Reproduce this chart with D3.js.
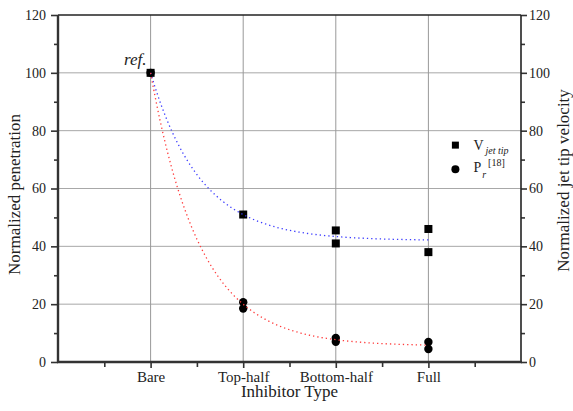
<!DOCTYPE html>
<html>
<head>
<meta charset="utf-8">
<script src="https://cdn.jsdelivr.net/npm/d3@7"></script>
<style>
  body { margin: 0; background: #fff; }
  svg text { font-family: "Liberation Serif", "Times New Roman", serif; fill: #222; }
</style>
</head>
<body>
<div id="my_dataviz"></div>
<script>
// data
var categories = ["Bare", "Top-half", "Bottom-half", "Full"];
var yTicks = [0, 20, 40, 60, 80, 100, 120];

// V jet tip (squares): [category index, value]
var velocity = [[0, 100], [1, 51], [2, 45.5], [2, 41], [3, 46], [3, 38]];
// P_r [18] (circles)
var penetration = [[0, 100], [1, 20.7], [1, 18.5], [2, 8.3], [2, 7.0], [3, 6.9], [3, 4.5]];

// exponential decay fits y = y0 + A * exp(-x / t)
var velocityFit = { y0: 42, A: 58, t: 0.536 };
var penetrationFit = { y0: 5.5, A: 94.5, t: 0.533 };

var margin = { top: 15, right: 52, bottom: 49, left: 58 },
  width = 573 - margin.left - margin.right,
  height = 411 - margin.top - margin.bottom;

var svg = d3.select("#my_dataviz")
  .append("svg")
  .attr("width", width + margin.left + margin.right)
  .attr("height", height + margin.top + margin.bottom)
  .append("g")
  .attr("transform", "translate(" + margin.left + "," + margin.top + ")");

var x = d3.scaleLinear().domain([-1, 4]).range([0, width]);
var y = d3.scaleLinear().domain([0, 120]).range([height, 0]);

// grid
svg.append("g")
  .selectAll("line.hgrid")
  .data(yTicks.filter(function (d) { return d > 0 && d < 120; }))
  .enter().append("line")
  .attr("x1", 0).attr("x2", width)
  .attr("y1", function (d) { return y(d); })
  .attr("y2", function (d) { return y(d); })
  .attr("stroke", "#a8a8a8").attr("stroke-width", 1);

svg.append("g")
  .selectAll("line.vgrid")
  .data(categories)
  .enter().append("line")
  .attr("x1", function (d, i) { return x(i); })
  .attr("x2", function (d, i) { return x(i); })
  .attr("y1", 0).attr("y2", height)
  .attr("stroke", "#999").attr("stroke-width", 1);

// axes
var minorY = d3.range(10, 120, 20);
var majorX = d3.range(0, 4);
var minorX = d3.range(-0.5, 4, 1);

svg.append("g")
  .attr("class", "axis yax")
  .call(d3.axisLeft(y).tickValues(yTicks).tickSize(7).tickPadding(5));
svg.append("g")
  .call(d3.axisLeft(y).tickValues(minorY).tickSize(4).tickFormat(""));

svg.append("g")
  .attr("class", "axis yax")
  .attr("transform", "translate(" + width + ",0)")
  .call(d3.axisRight(y).tickValues(yTicks).tickSize(6).tickPadding(2));
svg.append("g")
  .attr("transform", "translate(" + width + ",0)")
  .call(d3.axisRight(y).tickValues(minorY).tickSize(4).tickFormat(""));

svg.append("g")
  .attr("class", "axis xax")
  .attr("transform", "translate(0," + height + ")")
  .call(d3.axisBottom(x).tickValues(majorX).tickSize(6).tickPadding(3)
    .tickFormat(function (d) { return categories[d]; }));
svg.append("g")
  .attr("transform", "translate(0," + height + ")")
  .call(d3.axisBottom(x).tickValues(minorX).tickSize(5).tickFormat(""));

svg.selectAll(".domain").remove();
svg.selectAll("g").attr("font-family", null);
svg.selectAll(".tick line").attr("stroke", "#333").attr("stroke-width", 1.6);
svg.selectAll(".yax text").style("font-size", "14px").attr("fill", "#222");
svg.selectAll(".xax text").style("font-size", "15px").attr("fill", "#222");

// frame
svg.append("line").attr("x1", 0).attr("x2", width).attr("y1", 0).attr("y2", 0)
  .attr("stroke", "#222").attr("stroke-width", 1.6);
svg.append("line").attr("x1", width).attr("x2", width).attr("y1", 0).attr("y2", height)
  .attr("stroke", "#222").attr("stroke-width", 1.6);
svg.append("line").attr("x1", 0).attr("x2", 0).attr("y1", 0).attr("y2", height + 1)
  .attr("stroke", "#333").attr("stroke-width", 2.4);
svg.append("line").attr("x1", -1).attr("x2", width + 1).attr("y1", height).attr("y2", height)
  .attr("stroke", "#333").attr("stroke-width", 2.4);

// markers
svg.selectAll("circle.pr")
  .data(penetration)
  .enter().append("circle")
  .attr("cx", function (d) { return x(d[0]); })
  .attr("cy", function (d) { return y(d[1]); })
  .attr("r", 4.2)
  .attr("fill", "#000");

svg.selectAll("rect.v")
  .data(velocity)
  .enter().append("rect")
  .attr("x", function (d) { return x(d[0]) - 4; })
  .attr("y", function (d) { return y(d[1]) - 4; })
  .attr("width", 8).attr("height", 8)
  .attr("fill", "#000");

// fit curves (drawn over the markers)
function fitLine(p) {
  var pts = d3.range(0, 3.001, 0.02).map(function (v) {
    return [v, p.y0 + p.A * Math.exp(-v / p.t)];
  });
  return d3.line()
    .x(function (d) { return x(d[0]); })
    .y(function (d) { return y(d[1]); })(pts);
}

svg.append("path")
  .attr("d", fitLine(velocityFit))
  .attr("fill", "none").attr("stroke", "#3b3bff").attr("stroke-width", 1.3)
  .attr("stroke-dasharray", "1.3,3");

svg.append("path")
  .attr("d", fitLine(penetrationFit))
  .attr("fill", "none").attr("stroke", "#ff3b3b").attr("stroke-width", 1.3)
  .attr("stroke-dasharray", "1.3,3");

// ref. label
svg.append("text")
  .attr("x", x(0) - 4).attr("y", y(100) - 8)
  .attr("text-anchor", "end")
  .style("font-size", "17px").style("font-style", "italic")
  .text("ref.");

// legend
var lg = svg.append("g").attr("transform", "translate(" + (x(3) + 27) + "," + y(75) + ")");
lg.append("rect").attr("x", -3.5).attr("y", -3.5).attr("width", 7).attr("height", 7).attr("fill", "#000");
var t1 = lg.append("text").attr("x", 18).attr("y", 5).style("font-size", "14px");
t1.append("tspan").text("V");
t1.append("tspan").attr("dy", 4).attr("dx", 2).style("font-size", "10px").style("font-style", "italic").text("jet tip");

lg.append("circle").attr("cx", 0).attr("cy", 24).attr("r", 4).attr("fill", "#000");
var t2 = lg.append("text").attr("x", 18).attr("y", 27).style("font-size", "14px");
t2.append("tspan").text("P");
t2.append("tspan").attr("dy", 6).attr("dx", 1).style("font-size", "10px").style("font-style", "italic").text("r");
t2.append("tspan").attr("dy", -12).attr("dx", 2).style("font-size", "10px").text("[18]");

// axis titles
svg.append("text")
  .attr("transform", "translate(" + (-38) + "," + (height / 2 + 6) + ")rotate(-90)")
  .attr("text-anchor", "middle")
  .style("font-size", "17px")
  .text("Normalized penetration");

svg.append("text")
  .attr("transform", "translate(" + (width + 48) + "," + (height / 2 - 8) + ")rotate(-90)")
  .attr("text-anchor", "middle")
  .style("font-size", "17px")
  .text("Normalized jet tip velocity");

svg.append("text")
  .attr("x", width / 2).attr("y", height + 35)
  .attr("text-anchor", "middle")
  .style("font-size", "17px")
  .text("Inhibitor Type");
</script>
</body>
</html>
